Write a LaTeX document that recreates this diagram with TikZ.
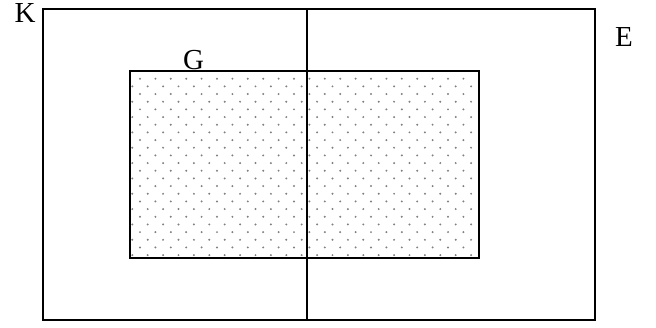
\documentclass[tikz,border=0pt]{standalone}
\usepackage{fontspec}
\setmainfont{Liberation Serif}
\usepackage{tikz}
\usepackage{xcolor}

\tikzset{
  setline/.style={line width=1.8pt, black},
  setlabel/.style={inner sep=0pt, font=\fontsize{29}{34}\selectfont},
  pointdot/.style={fill=gray}
}

\begin{document}
\begin{tikzpicture}[x=1pt, y=-1pt]
                \useasboundingbox (0,0) rectangle (656,327);
                % puntos del conjunto G
                \foreach \k in {0,...,23} {
                    \pgfmathsetmacro{\yy}{78.7+7.67*\k}
                    \ifodd\k
                        \foreach \m in {0,...,22}
                            \fill[pointdot] (132.3+15.4*\m,\yy) circle (1.1);
                    \else
                        \foreach \m in {0,...,21}
                            \fill[pointdot] (140+15.4*\m,\yy) circle (1.1);
                    \fi
                }
                % conjunto G
                \draw[setline] (130,71) rectangle (479,258);
                % conjunto K y corte vertical
                \draw[setline] (43,9) rectangle (595,320);
                \draw[setline] (307,9) -- (307,320);
                % etiquetas
                \node[setlabel] (labK) at (25,13.5) {K};
                \node[setlabel] (labE) at (624,37.5) {E};
                \node[setlabel] (labG) at (193.5,60) {G};
\end{tikzpicture}
\end{document}
